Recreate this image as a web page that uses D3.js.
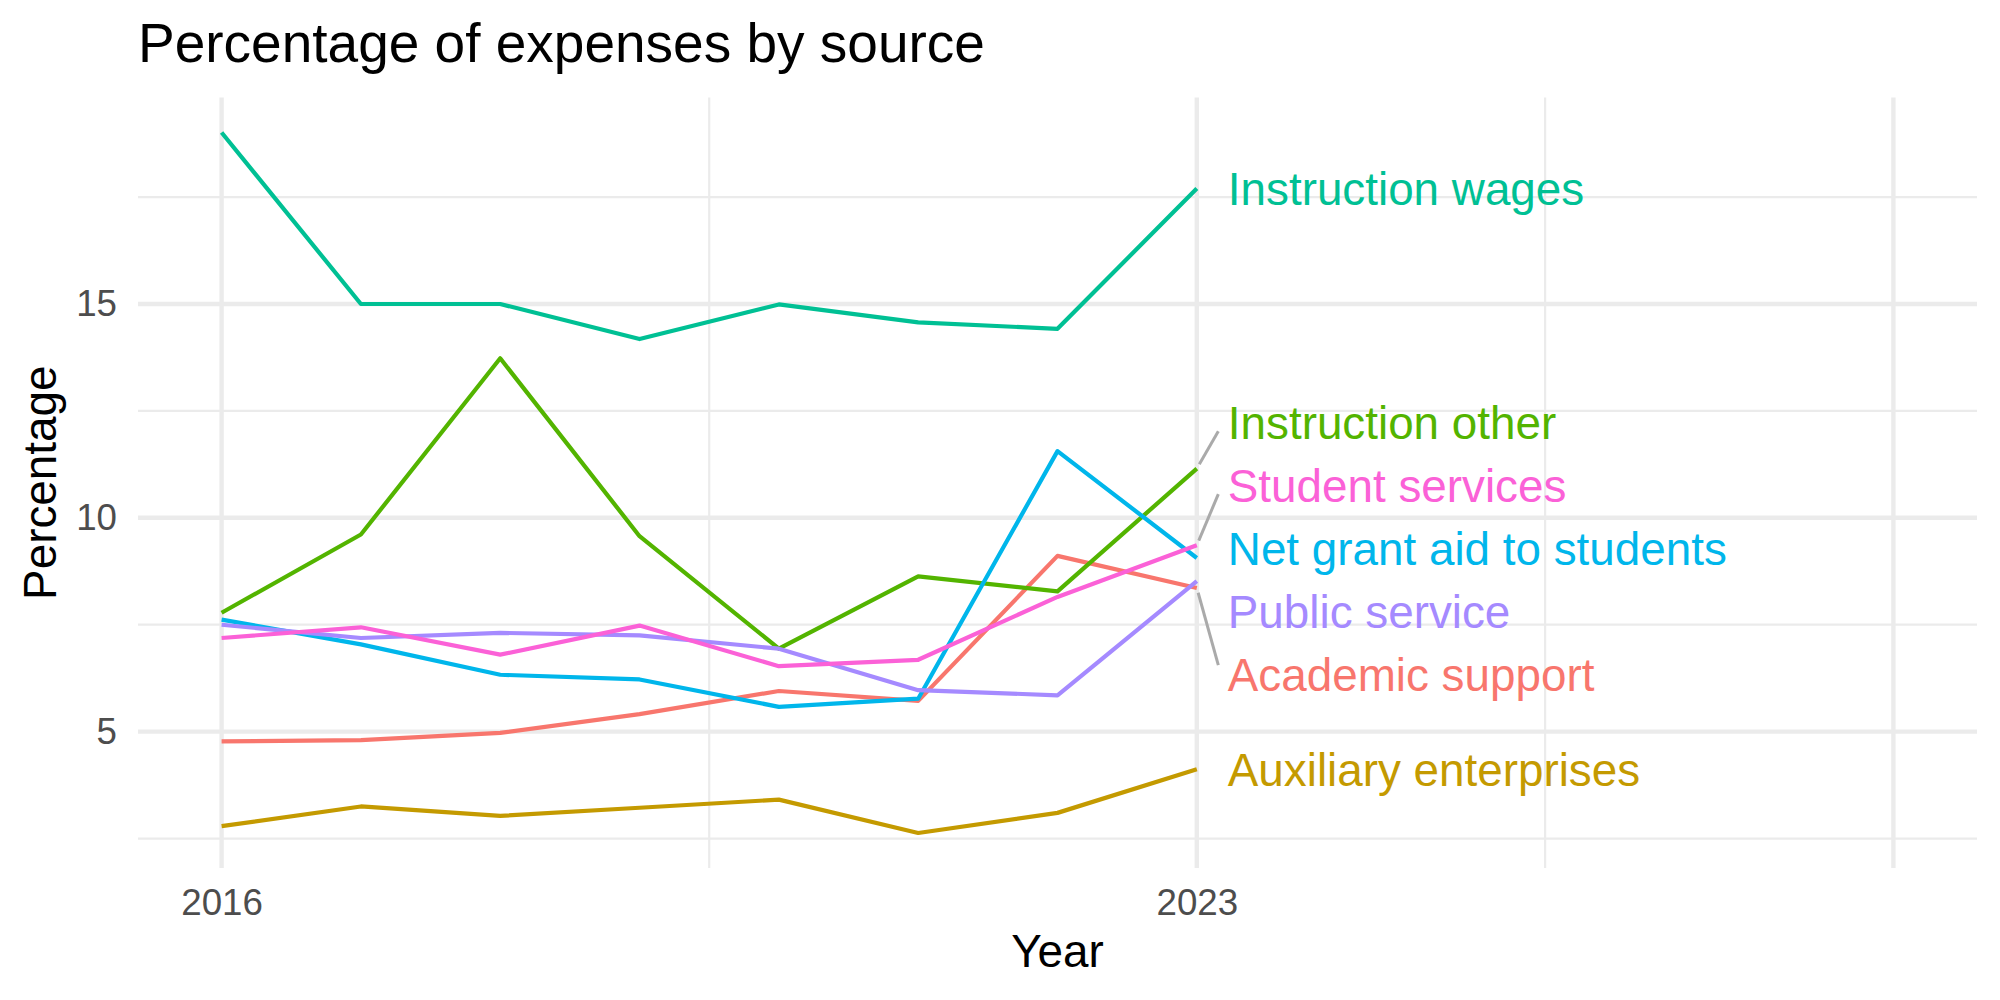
<!DOCTYPE html>
<html>
<head>
<meta charset="utf-8">
<script src="https://cdn.jsdelivr.net/npm/d3@7"></script>
<style>
  body { margin: 0; background: #fff; }
  svg { display: block; font-family: "Liberation Sans", Arial, sans-serif; }
</style>
</head>
<body>
<div id="chart"></div>
<script>
const years = [2016, 2017, 2018, 2019, 2020, 2021, 2022, 2023];

const academicSupport      = [4.77, 4.80, 4.97, 5.41, 5.95, 5.72, 9.11, 8.36];
const auxiliaryEnterprises = [2.79, 3.25, 3.03, 3.22, 3.41, 2.63, 3.10, 4.12];
const instructionOther     = [7.78, 9.61, 13.73, 9.57, 6.94, 8.63, 8.28, 11.15];
const instructionWages     = [19.01, 15.00, 15.00, 14.18, 14.99, 14.57, 14.42, 17.70];
const netGrantAid          = [7.62, 7.04, 6.33, 6.22, 5.58, 5.77, 11.56, 9.06];
const publicService        = [7.50, 7.19, 7.31, 7.25, 6.94, 5.97, 5.85, 8.52];
const studentServices      = [7.19, 7.44, 6.80, 7.48, 6.53, 6.68, 8.15, 9.36];

const sourceNames = [
  'Academic support', 'Auxiliary enterprises', 'Instruction other',
  'Instruction wages', 'Net grant aid to students', 'Public service', 'Student services'
];
const sourceValues = [
  academicSupport, auxiliaryEnterprises, instructionOther,
  instructionWages, netGrantAid, publicService, studentServices
];
const colors = ['#F8766D', '#C49A00', '#53B400', '#00C094', '#00B6EB', '#A58AFF', '#FB61D7'];

const xLimits = [2016, 2028];
const xBreaks = [2016, 2023, 2028];
const xLabels = ['2016', '2023', ''];
const xMinor = [2019.5, 2025.5];
const yBreaks = [5, 10, 15];
const yMinor = [2.5, 7.5, 12.5, 17.5];

const series = sourceNames.map((name, i) => ({
  name,
  color: colors[i],
  values: years.map((year, j) => ({ year, value: sourceValues[i][j] })),
}));

const width = 2000;
const height = 1000;
const panel = { left: 138, right: 1977, top: 97.5, bottom: 868 };

const svg = d3.select('#chart')
  .append('svg')
  .attr('width', width)
  .attr('height', height)
  .attr('viewBox', `0 0 ${width} ${height}`);

svg.append('rect').attr('width', width).attr('height', height).attr('fill', '#fff');

// ggplot-style 5% expansion
const xPad = (xLimits[1] - xLimits[0]) * 0.05;
const xScale = d3.scaleLinear()
  .domain([xLimits[0] - xPad, xLimits[1] + xPad])
  .range([panel.left, panel.right]);

const allValues = sourceValues.flat();
const [yMin, yMax] = d3.extent(allValues);
const yPad = (yMax - yMin) * 0.05;
const yScale = d3.scaleLinear()
  .domain([yMin - yPad, yMax + yPad])
  .range([panel.bottom, panel.top]);

// grid
const grid = svg.append('g').attr('stroke', '#EBEBEB').attr('fill', 'none');
grid.selectAll('.ymin').data(yMinor).join('line')
  .attr('x1', panel.left).attr('x2', panel.right)
  .attr('y1', d => yScale(d)).attr('y2', d => yScale(d))
  .attr('stroke-width', 2.2);
grid.selectAll('.xmin').data(xMinor).join('line')
  .attr('y1', panel.top).attr('y2', panel.bottom)
  .attr('x1', d => xScale(d)).attr('x2', d => xScale(d))
  .attr('stroke-width', 2.2);
grid.selectAll('.ymaj').data(yBreaks).join('line')
  .attr('x1', panel.left).attr('x2', panel.right)
  .attr('y1', d => yScale(d)).attr('y2', d => yScale(d))
  .attr('stroke-width', 4.4);
grid.selectAll('.xmaj').data(xBreaks).join('line')
  .attr('y1', panel.top).attr('y2', panel.bottom)
  .attr('x1', d => xScale(d)).attr('x2', d => xScale(d))
  .attr('stroke-width', 4.4);

// axes (labels only)
const yAxis = svg.append('g')
  .attr('transform', `translate(${panel.left},0)`)
  .call(d3.axisLeft(yScale).tickValues(yBreaks).tickSize(0).tickPadding(21));
const xAxis = svg.append('g')
  .attr('transform', `translate(0,${panel.bottom})`)
  .call(d3.axisBottom(xScale).tickValues(xBreaks).tickSize(0).tickPadding(21)
    .tickFormat((d, i) => xLabels[i]));
[xAxis, yAxis].forEach(g => {
  g.select('.domain').remove();
  g.selectAll('text')
    .attr('font-size', 36.7)
    .attr('fill', '#4D4D4D')
    .attr('font-family', '"Liberation Sans", Arial, sans-serif');
});

// lines
const line = d3.line()
  .x(d => xScale(d.year))
  .y(d => yScale(d.value));

svg.append('g')
  .selectAll('path')
  .data(series)
  .join('path')
  .attr('d', d => line(d.values))
  .attr('fill', 'none')
  .attr('stroke', d => d.color)
  .attr('stroke-width', 4.2)
  .attr('stroke-linejoin', 'round');

// end labels, pushed apart like ggrepel
const labelGap = 63;
const labelX = xScale(years[years.length - 1]) + 31;
const labels = series.map(s => {
  const last = s.values[s.values.length - 1];
  return { ...s, px: xScale(last.year), py: yScale(last.value), cy: yScale(last.value) };
}).sort((a, b) => a.py - b.py);

let clusters = labels.map(l => ({ items: [l], center: l.py }));
let merged = true;
while (merged) {
  merged = false;
  for (let i = 0; i < clusters.length - 1; i++) {
    const a = clusters[i];
    const b = clusters[i + 1];
    const aBottom = a.center + (a.items.length - 1) * labelGap / 2;
    const bTop = b.center - (b.items.length - 1) * labelGap / 2;
    if (bTop - aBottom < labelGap) {
      const items = a.items.concat(b.items);
      clusters.splice(i, 2, { items, center: d3.mean(items, d => d.py) });
      merged = true;
      break;
    }
  }
}
clusters.forEach(c => {
  c.items.forEach((l, k) => {
    l.cy = c.center + (k - (c.items.length - 1) / 2) * labelGap;
  });
});

// connector segments
const segs = [];
labels.forEach(l => {
  const bx = labelX - 9.5;
  const by = Math.max(l.cy - 9, Math.min(l.cy + 9, l.py));
  const dx = bx - l.px;
  const dy = by - l.py;
  const dist = Math.hypot(dx, dy);
  if (dist > 36) {
    const pad = 5;
    segs.push({ x1: l.px + dx / dist * pad, y1: l.py + dy / dist * pad, x2: bx, y2: by });
  }
});
svg.append('g')
  .selectAll('line')
  .data(segs)
  .join('line')
  .attr('x1', d => d.x1).attr('y1', d => d.y1)
  .attr('x2', d => d.x2).attr('y2', d => d.y2)
  .attr('stroke', '#AAAAAA')
  .attr('stroke-width', 3);

svg.append('g')
  .selectAll('text')
  .data(labels)
  .join('text')
  .attr('x', labelX)
  .attr('y', d => d.cy)
  .attr('dy', '0.36em')
  .attr('font-size', 45.8)
  .attr('fill', d => d.color)
  .text(d => d.name);

// titles
svg.append('text')
  .attr('x', panel.left)
  .attr('y', 62)
  .attr('font-size', 55)
  .attr('fill', '#000')
  .text('Percentage of expenses by source');

svg.append('text')
  .attr('x', (panel.left + panel.right) / 2)
  .attr('y', 967)
  .attr('text-anchor', 'middle')
  .attr('font-size', 45.8)
  .attr('fill', '#000')
  .text('Year');

svg.append('text')
  .attr('transform', `translate(56,${(panel.top + panel.bottom) / 2}) rotate(-90)`)
  .attr('text-anchor', 'middle')
  .attr('font-size', 45.8)
  .attr('fill', '#000')
  .text('Percentage');
</script>
</body>
</html>
